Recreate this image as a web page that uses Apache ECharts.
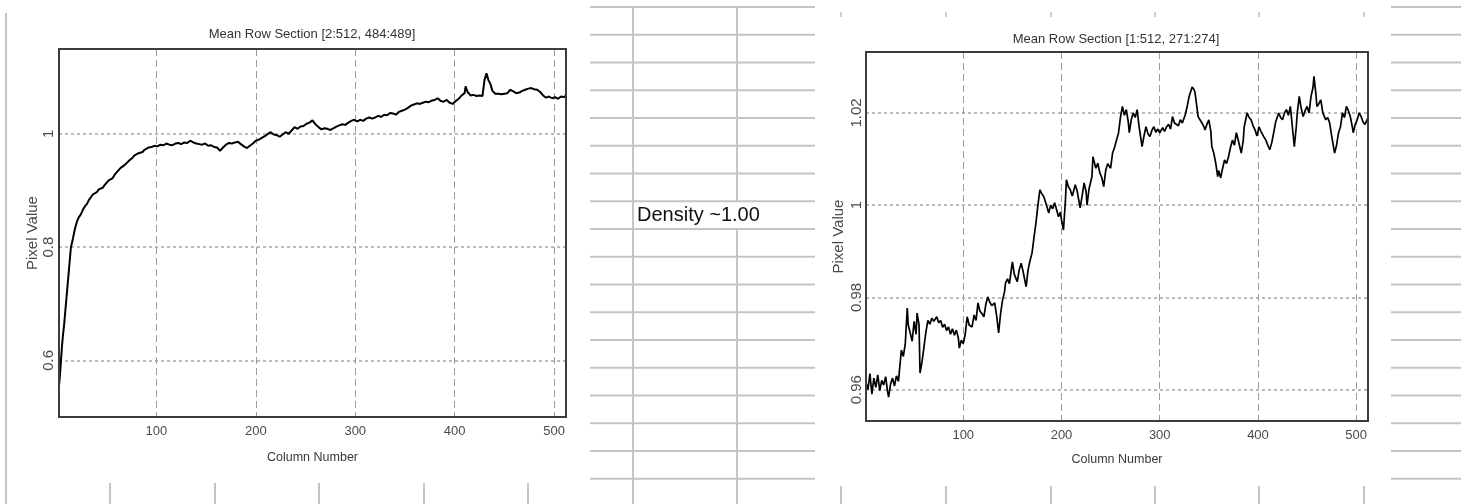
<!DOCTYPE html>
<html><head><meta charset="utf-8">
<script src="https://cdn.jsdelivr.net/npm/echarts@6/dist/echarts.min.js"></script>
<style>html,body{margin:0;padding:0;background:#fff}#c{width:1461px;height:504px}</style>
</head><body><div id="c"></div>
<script>
// ---------- data ----------
const leftTitle = 'Mean Row Section [2:512, 484:489]';
const rightTitle = 'Mean Row Section [1:512, 271:274]';
const xName = 'Column Number';
const yName = 'Pixel Value';
const noteText = 'Density ~1.00';
const xTicks = [100, 200, 300, 400, 500];
const leftYTicks = [0.6, 0.8, 1];
const rightYTicks = [0.96, 0.98, 1, 1.02];

// [column, mean pixel value]
const leftRow = [
[2,0.555],[3,0.575],[4,0.60],[5,0.625],[6,0.645],[7,0.66],[8,0.68],[9,0.70],[10,0.72],[11,0.74],
[12,0.76],[13,0.78],[14,0.80],[16,0.815],[18,0.832],[20,0.845],[22,0.853],[24,0.858],[26,0.866],[28,0.872],
[30,0.876],[32,0.883],[34,0.886],[36,0.893],[38,0.896],[40,0.897],[42,0.902],[44,0.903],[46,0.905],[48,0.910],
[50,0.912],[52,0.918],[54,0.916],[56,0.922],[58,0.928],[60,0.932],[62,0.935],[64,0.940],[66,0.938],[68,0.945],
[70,0.948],[72,0.952],[74,0.955],[76,0.958],[78,0.962],[80,0.961],[82,0.966],[84,0.969],[86,0.968],[88,0.972],
[90,0.974],[92,0.976],[95,0.977],[98,0.979],[101,0.978],[104,0.981],[107,0.980],[110,0.983],[113,0.981],[116,0.980],
[119,0.983],[122,0.984],[125,0.982],[128,0.985],[131,0.984],[134,0.988],[137,0.985],[140,0.983],[143,0.982],[146,0.981],
[149,0.983],[152,0.979],[155,0.980],[158,0.977],[161,0.976],[164,0.970],[167,0.976],[170,0.981],[173,0.984],[176,0.983],
[179,0.985],[182,0.986],[185,0.982],[188,0.978],[191,0.975],[194,0.979],[197,0.983],[200,0.988],[203,0.990],[206,0.993],
[209,0.996],[212,1.000],[215,1.003],[218,0.999],[221,0.998],[224,0.995],[227,0.999],[230,1.003],[233,1.000],[236,1.006],
[239,1.012],[242,1.009],[245,1.013],[248,1.014],[251,1.018],[254,1.020],[257,1.024],[260,1.017],[263,1.012],[266,1.008],
[269,1.010],[272,1.009],[275,1.007],[278,1.010],[281,1.013],[284,1.015],[287,1.017],[290,1.016],[293,1.020],[296,1.023],
[299,1.025],[302,1.022],[305,1.025],[308,1.023],[311,1.027],[314,1.029],[317,1.027],[320,1.029],[323,1.032],[326,1.030],
[329,1.034],[332,1.033],[335,1.037],[338,1.036],[341,1.034],[344,1.039],[347,1.041],[350,1.043],[353,1.046],[356,1.050],
[359,1.052],[362,1.054],[365,1.053],[368,1.055],[371,1.057],[374,1.056],[377,1.059],[380,1.060],[383,1.063],[386,1.058],
[389,1.057],[392,1.060],[395,1.055],[398,1.053],[401,1.058],[404,1.062],[407,1.068],[410,1.072],[411,1.084],[413,1.074],
[416,1.068],[419,1.069],[422,1.067],[425,1.068],[428,1.067],[430,1.095],[432,1.107],[434,1.095],[436,1.088],[438,1.076],
[441,1.071],[444,1.071],[447,1.070],[450,1.071],[453,1.072],[456,1.078],[459,1.075],[462,1.072],[465,1.073],[468,1.076],
[471,1.078],[474,1.080],[477,1.081],[480,1.079],[483,1.078],[486,1.074],[489,1.068],[492,1.064],[495,1.066],[498,1.063],
[501,1.065],[504,1.062],[507,1.066],[510,1.065],[512,1.068]
];

// [column, mean pixel value]
const rightRow = [
[1,0.9615],[3,0.9600],[5,0.9635],[7,0.9590],[9,0.9625],[11,0.9605],[13,0.9632],[15,0.9598],[17,0.9620],[19,0.9610],
[21,0.9628],[23,0.9595],[24,0.9584],[26,0.9612],[28,0.9625],[30,0.9608],[32,0.9630],[34,0.9618],[35,0.9640],[37,0.9686],
[39,0.9672],[41,0.9700],[43,0.9777],[44,0.9740],[46,0.9723],[48,0.9705],[50,0.9748],[52,0.9720],[53,0.9766],[55,0.9740],
[56,0.9636],[58,0.9660],[60,0.9692],[62,0.9725],[64,0.9750],[66,0.9742],[68,0.9755],[70,0.9748],[73,0.9758],[75,0.9745],
[77,0.9750],[79,0.9735],[81,0.9742],[83,0.9728],[85,0.9736],[87,0.9720],[89,0.9732],[91,0.9718],[93,0.9729],[95,0.9712],
[96,0.9690],[98,0.9707],[100,0.9700],[102,0.9720],[104,0.9758],[106,0.9740],[109,0.9736],[111,0.9762],[113,0.9750],[115,0.9788],
[117,0.9770],[119,0.9765],[121,0.9758],[123,0.9785],[125,0.9801],[127,0.9790],[129,0.9782],[132,0.9788],[134,0.9760],[136,0.9723],
[138,0.9765],[140,0.9794],[142,0.9812],[143,0.9831],[145,0.9840],[147,0.9830],[150,0.9877],[152,0.9850],[155,0.9834],[157,0.9860],
[159,0.9874],[161,0.9855],[164,0.9823],[166,0.9860],[168,0.9880],[170,0.9896],[172,0.9930],[174,0.9961],[176,1.0000],[178,1.0033],
[180,1.0025],[182,1.0018],[184,1.0005],[187,0.9983],[189,1.0000],[191,0.9992],[193,1.0005],[195,0.9990],[197,0.9975],[199,0.9985],
[200,0.9968],[202,0.9946],[204,1.0010],[205,1.0055],[207,1.0040],[209,1.0033],[211,1.0020],[214,1.0044],[216,1.0030],[219,0.9994],
[221,1.0020],[223,1.0048],[225,1.0030],[226,1.0000],[228,1.0035],[231,1.0062],[232,1.0105],[235,1.0080],[237,1.0091],[239,1.0070],
[241,1.0060],[243,1.0040],[245,1.0075],[247,1.0090],[250,1.0080],[252,1.0113],[254,1.0125],[256,1.0141],[258,1.0156],[260,1.0190],
[262,1.0214],[264,1.0195],[266,1.0207],[268,1.0180],[269,1.0157],[271,1.0185],[273,1.0200],[275,1.0190],[277,1.0207],[279,1.0170],
[282,1.0127],[284,1.0150],[286,1.0170],[288,1.0155],[290,1.0149],[292,1.0162],[294,1.0170],[296,1.0158],[298,1.0165],[300,1.0157],
[303,1.0168],[305,1.0160],[307,1.0170],[309,1.0175],[311,1.0165],[313,1.0192],[315,1.0178],[317,1.0182],[319,1.0172],[321,1.0185],
[323,1.0178],[326,1.0196],[328,1.0215],[330,1.0236],[333,1.0256],[335,1.0250],[336,1.0243],[338,1.0210],[339,1.0192],[341,1.0185],
[343,1.0178],[345,1.0170],[346,1.0163],[348,1.0175],[350,1.0185],[352,1.0160],[353,1.0127],[355,1.0113],[357,1.0091],[359,1.0062],
[360,1.0075],[362,1.0059],[364,1.0080],[366,1.0098],[368,1.0090],[370,1.0105],[372,1.0125],[374,1.0141],[376,1.0130],[378,1.0157],
[380,1.0140],[383,1.0113],[385,1.0140],[386,1.0170],[388,1.0190],[389,1.0200],[391,1.0190],[393,1.0185],[395,1.0172],[397,1.0163],
[399,1.0150],[401,1.0170],[403,1.0160],[406,1.0148],[408,1.0141],[410,1.0130],[412,1.0120],[414,1.0135],[416,1.0157],[418,1.0180],
[421,1.0200],[423,1.0190],[425,1.0185],[427,1.0200],[429,1.0207],[431,1.0195],[433,1.0214],[435,1.0170],[437,1.0127],[439,1.0170],
[440,1.0200],[442,1.0236],[444,1.0210],[446,1.0192],[448,1.0205],[450,1.0214],[452,1.0200],[454,1.0236],[456,1.0255],[457,1.0279],
[459,1.0240],[460,1.0214],[462,1.0220],[464,1.0228],[466,1.0200],[469,1.0185],[471,1.0190],[473,1.0178],[475,1.0150],[478,1.0113],
[480,1.0130],[482,1.0157],[484,1.0170],[486,1.0200],[488,1.0190],[490,1.0214],[492,1.0205],[494,1.0192],[496,1.0170],[497,1.0157],
[499,1.0175],[501,1.0185],[503,1.0200],[505,1.0192],[507,1.0180],[509,1.0175],[511,1.0185],[512,1.0190]
];

// ---------- layout / style ----------
const FONT = "'Liberation Sans', Arial, sans-serif";
const gridL = {left: 59, top: 49, width: 507, height: 368};
const gridR = {left: 866, top: 52, width: 502, height: 369};
const SHEET = '#c4c4c4';

function onTick(list) {
  return function (v) {
    for (const t of list) if (Math.abs(v - t) < 1e-6) return String(t);
    return '';
  };
}
function xAxisFor(gi, min, max, nameGap) {
  return {
    type: 'value', gridIndex: gi, min: min, max: max, minInterval: 100, maxInterval: 100,
    axisLine: {show: false}, axisTick: {show: false},
    axisLabel: {color: '#4a4a4a', fontSize: 13, fontFamily: FONT, margin: 8, formatter: onTick(xTicks)},
    splitLine: {show: true, showMinLine: false, showMaxLine: false,
      lineStyle: {color: '#9c9c9c', width: 1, type: [7, 4]}},
    name: xName, nameLocation: 'middle', nameGap: nameGap,
    nameTextStyle: {color: '#3a3a3a', fontSize: 12.5, fontFamily: FONT}
  };
}
function yAxisFor(gi, min, max, step, ticks, margin, nameGap) {
  return {
    type: 'value', gridIndex: gi, min: min, max: max, minInterval: step, maxInterval: step,
    axisLine: {show: false}, axisTick: {show: false},
    axisLabel: {color: '#4a4a4a', fontSize: 15, fontFamily: FONT, rotate: 90, margin: margin, formatter: onTick(ticks)},
    splitLine: {show: true, showMinLine: false, showMaxLine: false,
      lineStyle: {color: '#a4a4a4', width: 1.5, type: [3, 3]}},
    name: yName, nameLocation: 'middle', nameGap: nameGap, nameRotate: 90,
    nameTextStyle: {color: '#4a4a4a', fontSize: 15, fontFamily: FONT}
  };
}

const graphics = [];
function line(x1, y1, x2, y2, w, c) {
  graphics.push({type: 'line', silent: true, z: 1,
    shape: {x1: x1, y1: y1, x2: x2, y2: y2}, style: {stroke: c || SHEET, lineWidth: w || 2}});
}
// spreadsheet cell lines behind/around the pasted plots
line(6, 13, 6, 504);
[110, 215, 319, 424, 528].forEach(x => line(x, 483, x, 504));
const rowYs = [];
for (let k = 0; k < 18; k++) rowYs.push(7 + k * 27.75);
rowYs.forEach(y => { line(590, y, 815, y); line(1391, y, 1461, y); });
line(633, 7, 633, 504);
line(737, 7, 737, 201);
line(737, 229, 737, 504);
[841, 946, 1051, 1155, 1259, 1364].forEach(x => { line(x, 12, x, 17, 1.5, '#bcbcbc'); line(x, 486, x, 504); });
graphics.push({type: 'text', silent: true, z: 5, x: 637, y: 215,
  style: {text: noteText, fill: '#111', font: "20px 'Liberation Sans', Arial, sans-serif", verticalAlign: 'middle', align: 'left'}});
// plot frames
[gridL, gridR].forEach(g => graphics.push({type: 'rect', silent: true, z: 50,
  shape: {x: g.left, y: g.top, width: g.width, height: g.height},
  style: {fill: 'none', stroke: '#3c3c3c', lineWidth: 2}}));

const option = {
  backgroundColor: '#ffffff',
  animation: false,
  title: [
    {text: leftTitle, left: 312, top: 28, textAlign: 'center', padding: 0,
      textStyle: {fontSize: 13, fontWeight: 'normal', color: '#333', fontFamily: FONT}},
    {text: rightTitle, left: 1116, top: 33, textAlign: 'center', padding: 0,
      textStyle: {fontSize: 13, fontWeight: 'normal', color: '#333', fontFamily: FONT}}
  ],
  grid: [
    Object.assign({containLabel: false}, gridL),
    Object.assign({containLabel: false}, gridR)
  ],
  xAxis: [xAxisFor(0, 2, 512, 34), xAxisFor(1, 1, 512, 32)],
  yAxis: [yAxisFor(0, 0.5, 1.15, 0.2, leftYTicks, 3, 16), yAxisFor(1, 0.9532, 1.0332, 0.02, rightYTicks, 2, 20)],
  series: [
    {type: 'line', xAxisIndex: 0, yAxisIndex: 0, data: leftRow, showSymbol: false, symbol: 'none',
      lineStyle: {color: '#000', width: 2}, z: 10},
    {type: 'line', xAxisIndex: 1, yAxisIndex: 1, data: rightRow, showSymbol: false, symbol: 'none',
      lineStyle: {color: '#000', width: 1.7}, z: 10}
  ],
  graphic: graphics
};
const chart = echarts.init(document.getElementById('c'), null, {renderer: 'canvas'});
chart.setOption(option);
</script>
</body></html>
